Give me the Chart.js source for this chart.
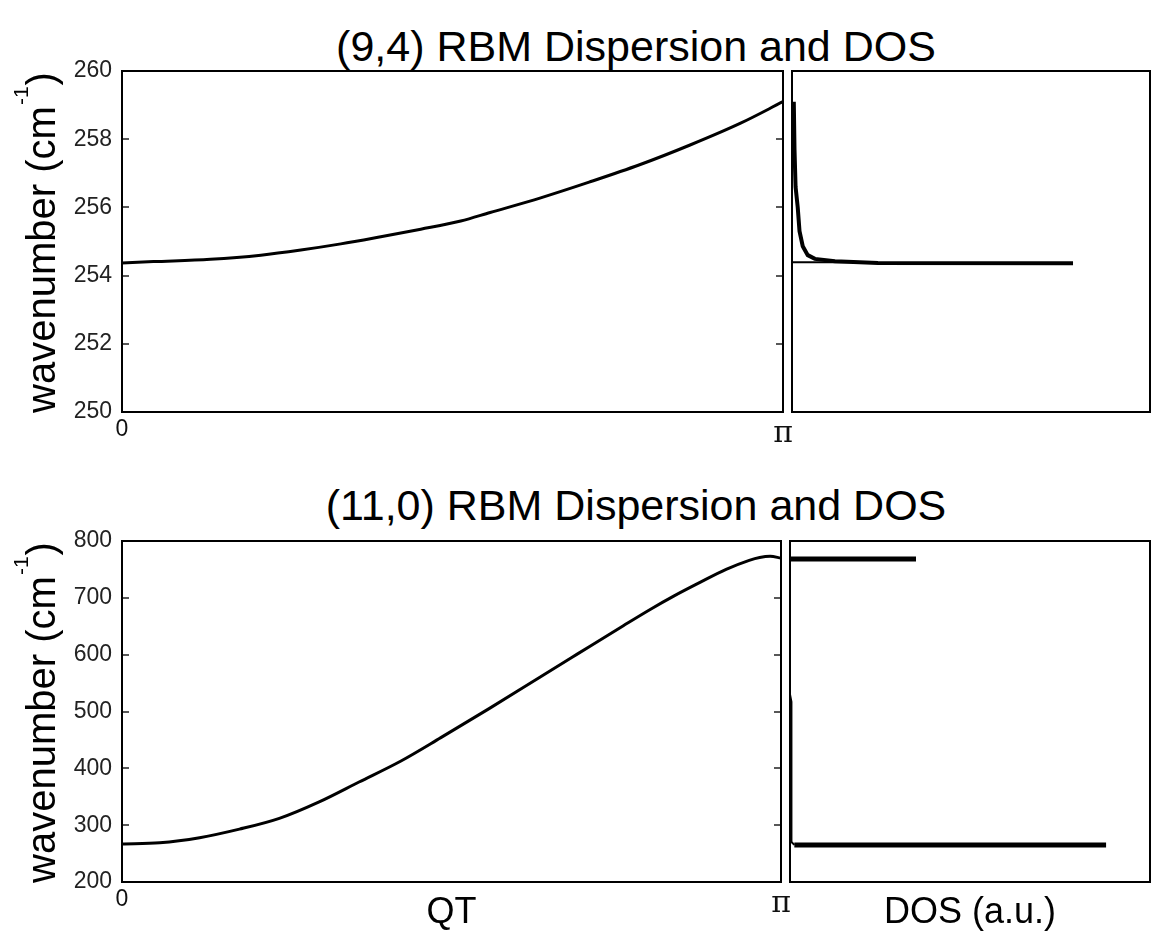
<!DOCTYPE html>
<html>
<head>
<meta charset="utf-8">
<script src="https://cdn.jsdelivr.net/npm/chart.js@4.4.1/dist/chart.umd.min.js"></script>
<style>
  body { margin: 0; background: #fff; }
  #fig { position: relative; width: 1151px; height: 937px; background: #fff; overflow: hidden; }
  #fig canvas { position: absolute; }
  .ttl { position: absolute; left: 136px; width: 1000px; text-align: center;
         font: 43px/43px "Liberation Sans", Arial, sans-serif; color: #000; white-space: nowrap; }
</style>
</head>
<body>
<div id="fig">
  <div class="ttl" style="top:25px">(9,4) RBM Dispersion and DOS</div>
  <div class="ttl" style="top:484px">(11,0) RBM Dispersion and DOS</div>
  <canvas id="disp94" width="800" height="470" style="left:0;top:0"></canvas>
  <canvas id="dos94" width="391" height="470" style="left:760px;top:0"></canvas>
  <canvas id="disp110" width="800" height="467" style="left:0;top:470px"></canvas>
  <canvas id="dos110" width="391" height="467" style="left:760px;top:470px"></canvas>
</div>
<script>
const FONT = '"Liberation Sans", Arial, sans-serif';

// (9,4) tube: dispersion along QT, in cm^-1
const qt94 = [0, 0.15, 0.42, 0.66, 0.85, 1.04, 1.23, 1.42, 1.61, 1.75, 1.99, 2.22, 2.46, 2.70, 2.94, 3.1416];
const w94 = [254.37, 254.41, 254.48, 254.60, 254.75, 254.93, 255.14, 255.36, 255.60, 255.85, 256.28, 256.74, 257.25, 257.83, 258.47, 259.10];
// (9,4) DOS (a.u.)
const dos94 = [0.005, 0.007, 0.010, 0.016, 0.021, 0.030, 0.044, 0.064, 0.12, 0.24, 0.785];
const wDos94 = [259.10, 257.70, 256.60, 256.00, 255.30, 254.86, 254.60, 254.49, 254.42, 254.37, 254.36];
const dosBase94 = [0, 0.24];
const wBase94 = [254.39, 254.39];

// (11,0) tube
const qt110 = [0, 0.18, 0.37, 0.56, 0.75, 0.94, 1.13, 1.33, 1.52, 1.75, 1.99, 2.17, 2.39, 2.52, 2.63, 2.76, 2.88, 2.99, 3.04, 3.09, 3.1416];
const w110 = [267, 269, 278, 293, 312, 341, 376, 413, 454, 505, 560, 601, 651, 680, 703, 728, 750, 766, 771, 773, 770];
const dosLow110 = [0.878, 0.012];
const wLow110 = [265.3, 265.3];
const dosEdge110 = [0.012, 0.005, 0.004, 0];
const wEdge110 = [265.3, 270, 517, 530];
const dosHigh110 = [0, 0.35];
const wHigh110 = [768.4, 768.4];

const ticks94 = [250, 252, 254, 256, 258, 260];
const ticks110 = [200, 300, 400, 500, 600, 700, 800];
const qtTicks = [0, Math.PI];
const qtLabels = ['0', 'π'];

const pts = (xs, ys) => xs.map((x, i) => ({x: x, y: ys[i]}));
const line = (data, width, smooth) => ({
  data: data, showLine: true, borderColor: '#000', borderWidth: width,
  pointRadius: 0, cubicInterpolationMode: smooth ? 'monotone' : 'default', tension: 0
});

// matlab style box + inward ticks
const frame = {
  id: 'frame',
  afterDraw(chart, args, opts) {
    const {ctx, chartArea: a} = chart;
    ctx.save();
    if (opts.ticks) {
      const y = chart.scales.y;
      ctx.lineWidth = 1.5;
      ctx.strokeStyle = '#222';
      ctx.beginPath();
      y.ticks.forEach(t => {
        const py = Math.round(y.getPixelForValue(t.value));
        if (py <= a.top + 1 || py >= a.bottom - 1) return;
        ctx.moveTo(a.left, py); ctx.lineTo(a.left + 7, py);
        ctx.moveTo(a.right, py); ctx.lineTo(a.right - 7, py);
      });
      ctx.stroke();
    }
    ctx.strokeStyle = '#000';
    ctx.lineWidth = 2;
    ctx.strokeRect(a.left, a.top, a.right - a.left, a.bottom - a.top);
    ctx.restore();
  }
};

// rotated y title with superscript
const yTitle = {
  id: 'yTitle',
  afterDraw(chart, args, opts) {
    if (!opts.text) return;
    const {ctx, chartArea: a} = chart;
    const big = '40px ' + FONT, small = '21px ' + FONT;
    ctx.save();
    ctx.translate(55, (a.top + a.bottom) / 2 + 2);
    ctx.rotate(-Math.PI / 2);
    ctx.fillStyle = '#000';
    ctx.textBaseline = 'alphabetic';
    ctx.font = big;
    const w1 = ctx.measureText(opts.text).width;
    const w3 = ctx.measureText(opts.tail).width;
    ctx.font = small;
    const w2 = ctx.measureText(opts.sup).width;
    let x = -(w1 + w2 + w3) / 2;
    ctx.font = big; ctx.fillText(opts.text, x, 0); x += w1;
    ctx.font = small; ctx.fillText(opts.sup, x + 1, -27); x += w2 + 2;
    ctx.font = big; ctx.fillText(opts.tail, x, 0);
    ctx.restore();
  }
};

function dispersion(id, data, yMin, yMax, yTicks, xHeight, xTitle) {
  return new Chart(document.getElementById(id), {
    type: 'scatter',
    data: { datasets: [line(data, 3, true)] },
    plugins: [frame, yTitle],
    options: {
      responsive: false,
      animation: false,
      layout: { padding: { top: 71, right: id === 'disp94' ? 17 : 19, left: 0, bottom: 0 } },
      plugins: {
        legend: { display: false },
        tooltip: { enabled: false },
        frame: { ticks: true },
        yTitle: { text: 'wavenumber (cm', sup: '-1', tail: ')' }
      },
      scales: {
        x: {
          type: 'linear', min: 0, max: Math.PI,
          grid: { display: false, drawTicks: false },
          border: { display: false },
          afterBuildTicks: s => { s.ticks = qtTicks.map(v => ({value: v})); },
          afterFit: s => { s.height = xHeight; },
          ticks: {
            autoSkip: false, maxRotation: 0, padding: 4, color: '#111',
            callback: (v, i) => qtLabels[i],
            font: c => c.index === 1 ? {family: '"DejaVu Serif", serif', size: 30} : {family: FONT, size: 23}
          },
          title: {
            display: !!xTitle, text: xTitle || '', color: '#000',
            font: { family: FONT, size: 36 }, padding: { top: 0, bottom: 2 }
          }
        },
        y: {
          min: yMin, max: yMax,
          grid: { display: false, drawTicks: false },
          border: { display: false },
          afterBuildTicks: s => { s.ticks = yTicks.map(v => ({value: v})); },
          afterFit: s => { s.width = 122; },
          ticks: { padding: 10, color: '#222', font: { family: FONT, size: 23 } }
        }
      }
    }
  });
}

function dos(id, datasets, yMin, yMax, padLeft, xTitle) {
  return new Chart(document.getElementById(id), {
    type: 'scatter',
    data: { datasets: datasets },
    plugins: [frame],
    options: {
      responsive: false,
      animation: false,
      layout: { padding: { top: 71, right: 1, left: padLeft, bottom: xTitle ? 0 : 58 } },
      plugins: { legend: { display: false }, tooltip: { enabled: false }, frame: { ticks: false } },
      scales: {
        x: {
          type: 'linear', min: 0, max: 1, display: !!xTitle,
          grid: { display: false, drawTicks: false },
          border: { display: false },
          ticks: { display: false },
          afterFit: s => { s.height = xTitle ? 55 : 0; },
          title: {
            display: !!xTitle, text: xTitle || '', color: '#000',
            font: { family: FONT, size: 36 }, padding: { top: 0, bottom: 2 }
          }
        },
        y: { min: yMin, max: yMax, display: false }
      }
    }
  });
}

dispersion('disp94', pts(qt94, w94), 250, 260, ticks94, 58, null);
dos('dos94', [
  line(pts(dosBase94, wBase94), 2, false),
  line(pts(dos94, wDos94), 4, false)
], 250, 260, 32, null);

dispersion('disp110', pts(qt110, w110), 200, 800, ticks110, 55, 'QT');
dos('dos110', [
  line(pts(dosEdge110, wEdge110), 2, false),
  line(pts(dosLow110, wLow110), 5, false),
  line(pts(dosHigh110, wHigh110), 5, false)
], 200, 800, 30, 'DOS (a.u.)');
</script>
</body>
</html>
